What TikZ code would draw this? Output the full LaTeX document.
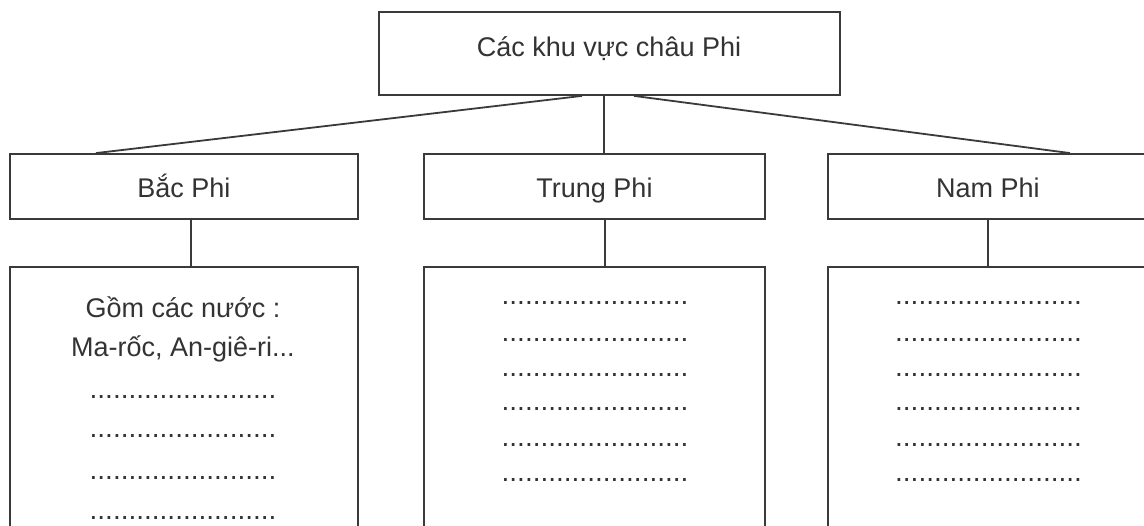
\documentclass[tikz,border=0pt]{standalone}
\usepackage{fontspec}
\setmainfont{Liberation Sans}
\definecolor{ink}{HTML}{333333}
\definecolor{edge}{HTML}{3A3A3A}
\newcommand\dotrow{........................}
\begin{document}
\begin{tikzpicture}[x=1pt,y=-1pt,
 box/.style={draw=edge,line width=1.8pt,rectangle,inner sep=0pt},
 lbl/.style={text=ink,font=\fontsize{27}{32}\selectfont,inner sep=0pt,anchor=base},
 dotsrow/.style={text=ink,font=\fontsize{28}{28}\selectfont,inner sep=0pt,anchor=base},
 link/.style={draw=edge,line width=1.8pt}]
\useasboundingbox (0,0) rectangle (1144,526);
\fill[white] (0,0) rectangle (1144,526);
\begin{scope}
\clip (0,0) rectangle (1144,526);
% top
\node[box,minimum width=461pt,minimum height=83pt] (top) at (609.5,53.5) {};
\node[lbl] (toptxt) at (609,57) {Các khu vực châu Phi};
% level 2
\node[box,minimum width=348pt,minimum height=65pt] (bac) at (184,186.5) {};
\node[box,minimum width=341pt,minimum height=65pt] (trung) at (594.5,186.5) {};
\node[box,minimum width=320pt,minimum height=65pt] (nam) at (988,186.5) {};
\node[lbl] (bactxt) at (184,198) {Bắc Phi};
\node[lbl] (trungtxt) at (594.5,198) {Trung Phi};
\node[lbl] (namtxt) at (988,198) {Nam Phi};
% level 3
\node[box,minimum width=348pt,minimum height=293pt] (bacbox) at (184,413.5) {};
\node[box,minimum width=341pt,minimum height=293pt] (trungbox) at (594.5,413.5) {};
\node[box,minimum width=320pt,minimum height=293pt] (nambox) at (988,413.5) {};
% connectors
\draw[link] ([xshift=-27.5pt]top.south) -- ([xshift=-88pt]bac.north);
\draw[link] ([xshift=-5.5pt]top.south) -- ([xshift=9.5pt]trung.north);
\draw[link] ([xshift=24.5pt]top.south) -- ([xshift=82pt]nam.north);
\draw[link] ([xshift=7pt]bac.south) -- ([xshift=7pt]bacbox.north);
\draw[link] ([xshift=10.5pt]trung.south) -- ([xshift=10.5pt]trungbox.north);
\draw[link] (nam.south) -- (nambox.north);
% left content
\node[lbl] (l1) at (183,318) {Gồm các nước :};
\node[lbl] (l2) at (183,357) {Ma-rốc, An-giê-ri...};
\node[dotsrow] (l3) at (183,399) {\dotrow};
\node[dotsrow] (l4) at (183,438) {\dotrow};
\node[dotsrow] (l5) at (183,480) {\dotrow};
\node[dotsrow] (l6) at (183,519) {\dotrow};
% middle content
\node[dotsrow] (m1) at (595,305) {\dotrow};
\node[dotsrow] (m2) at (595,342) {\dotrow};
\node[dotsrow] (m3) at (595,377) {\dotrow};
\node[dotsrow] (m4) at (595,411) {\dotrow};
\node[dotsrow] (m5) at (595,447) {\dotrow};
\node[dotsrow] (m6) at (595,482) {\dotrow};
% right content
\node[dotsrow] (r1) at (988.5,305) {\dotrow};
\node[dotsrow] (r2) at (988.5,342) {\dotrow};
\node[dotsrow] (r3) at (988.5,377) {\dotrow};
\node[dotsrow] (r4) at (988.5,411) {\dotrow};
\node[dotsrow] (r5) at (988.5,447) {\dotrow};
\node[dotsrow] (r6) at (988.5,482) {\dotrow};
\end{scope}
\end{tikzpicture}
\end{document}
